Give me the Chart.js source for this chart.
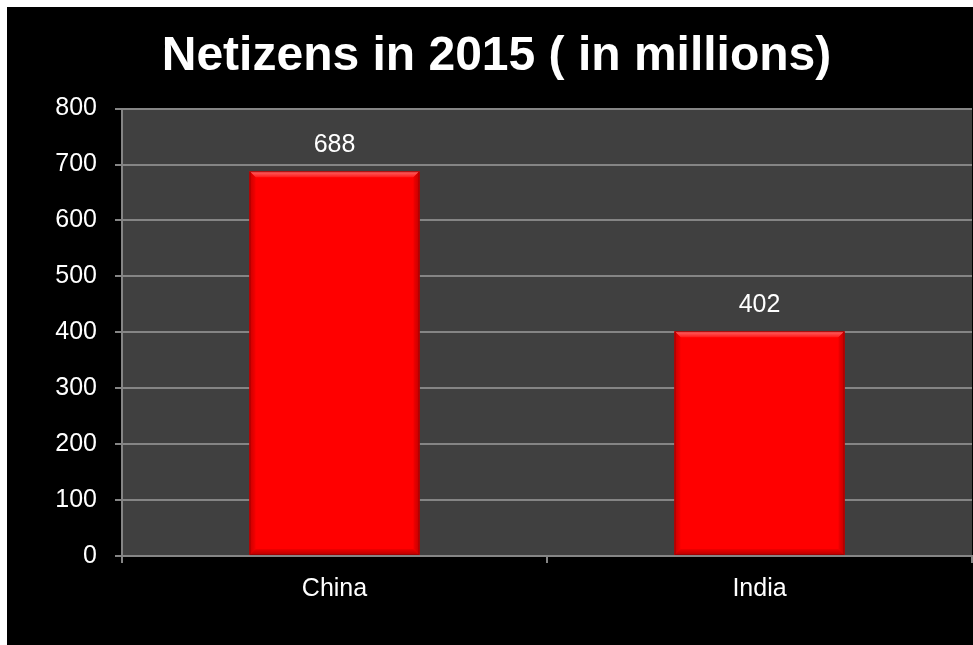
<!DOCTYPE html>
<html>
<head>
<meta charset="utf-8">
<title>Netizens in 2015</title>
<script src="https://cdn.jsdelivr.net/npm/chart.js@4/dist/chart.umd.min.js"></script>
<style>
  html, body { margin: 0; padding: 0; background: #ffffff; overflow: hidden; width: 973px; height: 645px; }
  #wrap { position: absolute; left: 7px; top: 7px; width: 966px; height: 638px; background: #000000; }
  canvas { display: block; }
</style>
</head>
<body>
<div id="wrap"><canvas id="c" width="966" height="638"></canvas></div>
<script>
// Internet users per country, 2015, in millions
const categories = ['China', 'India'];
const netizens = [688, 402];
const yTicks = [0, 100, 200, 300, 400, 500, 600, 700, 800];
const chartTitle = 'Netizens in 2015 ( in millions)';

Chart.defaults.font.family = "'Liberation Sans', Arial, Helvetica, sans-serif";
Chart.defaults.color = '#ffffff';

const GRID = '#858585';

// dark plot area behind the bars
const plotBackground = {
  id: 'plotBackground',
  beforeDraw(chart) {
    const { ctx, chartArea: a } = chart;
    ctx.save();
    ctx.fillStyle = '#404040';
    ctx.fillRect(a.left, a.top, a.right - a.left, a.bottom - a.top);
    ctx.restore();
  }
};

// bevelled edges on each bar, plus its value above it
const barBevel = {
  id: 'barBevel',
  afterDatasetsDraw(chart) {
    const { ctx } = chart;
    const meta = chart.getDatasetMeta(0);
    const ds = chart.data.datasets[0];
    ctx.save();
    meta.data.forEach((bar, i) => {
      const p = bar.getProps(['x', 'y', 'base', 'width'], true);
      const l = p.x - p.width / 2, r = p.x + p.width / 2;
      const t = p.y, b = p.base;
      const s = 6;
      // top face
      let g = ctx.createLinearGradient(0, t, 0, t + s);
      g.addColorStop(0, '#ff6a6a');
      g.addColorStop(1, '#ff1a1a');
      ctx.fillStyle = g;
      ctx.beginPath();
      ctx.moveTo(l, t); ctx.lineTo(r, t); ctx.lineTo(r - s, t + s); ctx.lineTo(l + s, t + s); ctx.closePath();
      ctx.fill();
      // left face
      g = ctx.createLinearGradient(l, 0, l + s, 0);
      g.addColorStop(0, '#c80000');
      g.addColorStop(1, '#f40000');
      ctx.fillStyle = g;
      ctx.beginPath();
      ctx.moveTo(l, t); ctx.lineTo(l + s, t + s); ctx.lineTo(l + s, b - s); ctx.lineTo(l, b); ctx.closePath();
      ctx.fill();
      // right face
      g = ctx.createLinearGradient(r, 0, r - s, 0);
      g.addColorStop(0, '#c00000');
      g.addColorStop(1, '#f00000');
      ctx.fillStyle = g;
      ctx.beginPath();
      ctx.moveTo(r, t); ctx.lineTo(r - s, t + s); ctx.lineTo(r - s, b - s); ctx.lineTo(r, b); ctx.closePath();
      ctx.fill();
      // bottom face
      g = ctx.createLinearGradient(0, b, 0, b - s);
      g.addColorStop(0, '#b80000');
      g.addColorStop(1, '#ee0000');
      ctx.fillStyle = g;
      ctx.beginPath();
      ctx.moveTo(l, b); ctx.lineTo(l + s, b - s); ctx.lineTo(r - s, b - s); ctx.lineTo(r, b); ctx.closePath();
      ctx.fill();
      // outline
      ctx.strokeStyle = '#a00000';
      ctx.lineWidth = 1;
      ctx.strokeRect(l + 0.5, t + 0.5, p.width - 1, b - t - 1);

      // value label
      ctx.fillStyle = '#ffffff';
      ctx.font = "25px 'Liberation Sans', Arial, sans-serif";
      ctx.textAlign = 'center';
      ctx.textBaseline = 'middle';
      ctx.fillText(String(ds.data[i]), p.x, t - 26);
    });
    ctx.restore();
  }
};

new Chart(document.getElementById('c'), {
  type: 'bar',
  data: {
    labels: categories,
    datasets: [{
      data: netizens,
      backgroundColor: '#ff0000',
      borderWidth: 0,
      categoryPercentage: 1.0,
      barPercentage: 0.4
    }]
  },
  options: {
    responsive: false,
    devicePixelRatio: 1,
    animation: false,
    layout: { padding: { left: 14, right: 1, top: 0, bottom: 0 } },
    plugins: {
      legend: { display: false },
      tooltip: { enabled: false },
      title: {
        display: true,
        text: chartTitle,
        color: '#ffffff',
        font: { size: 48, weight: 'bold' },
        padding: { top: 21, bottom: 23 }
      }
    },
    scales: {
      x: {
        offset: true,
        grid: {
          offset: true,
          drawOnChartArea: false,
          drawTicks: true,
          tickLength: 7,
          color: GRID,
          lineWidth: 2
        },
        border: { display: true, color: GRID, width: 2 },
        ticks: { color: '#ffffff', font: { size: 25 }, padding: 11 },
        afterFit(scale) { scale.height = 89; }
      },
      y: {
        min: yTicks[0],
        max: yTicks[yTicks.length - 1],
        afterBuildTicks(scale) { scale.ticks = yTicks.map(v => ({ value: v })); },
        grid: {
          color: GRID,
          lineWidth: 2,
          drawTicks: true,
          tickLength: 7
        },
        border: { display: true, color: GRID, width: 2 },
        ticks: { color: '#ffffff', font: { size: 25 }, padding: 18 },
        afterFit(scale) { scale.width = 101; }
      }
    }
  },
  plugins: [plotBackground, barBevel]
});
</script>
</body>
</html>
